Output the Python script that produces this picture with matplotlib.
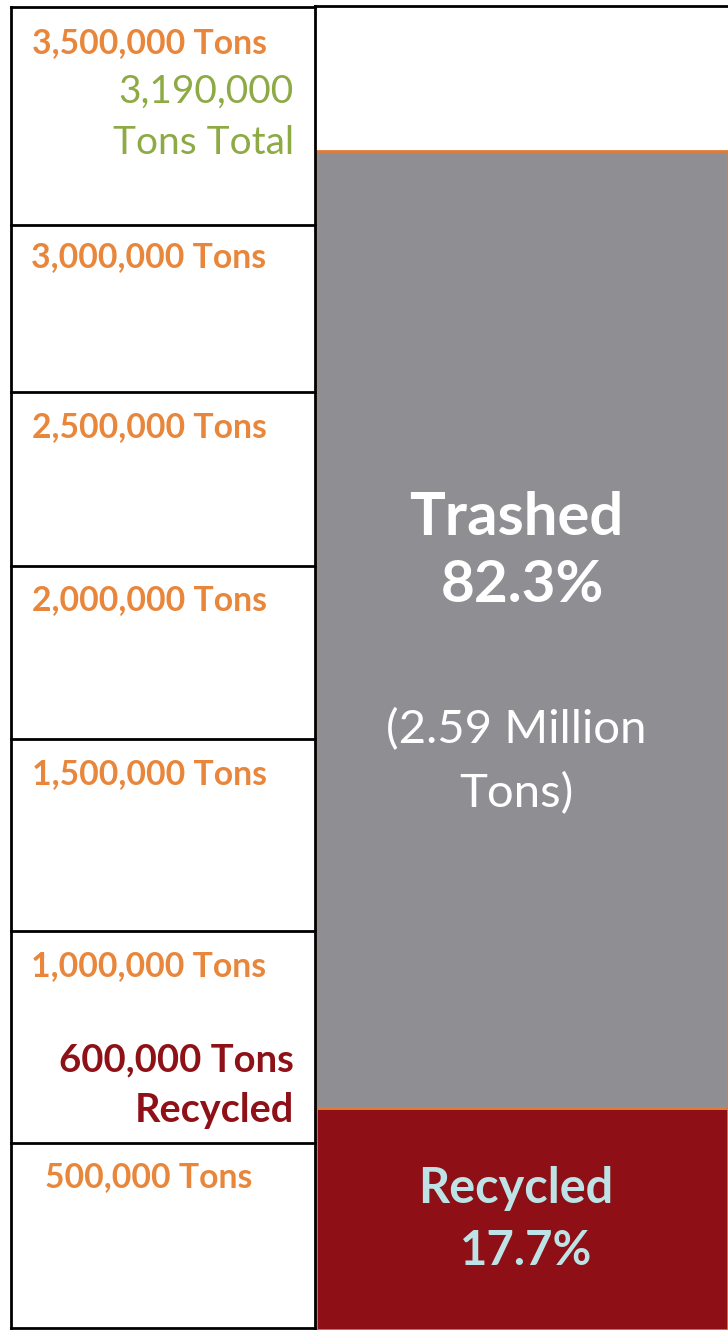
import matplotlib
matplotlib.use("Agg")
import matplotlib.pyplot as plt

# ---------------- data ----------------
categories = ["Recycled", "Trashed"]
tons = [600000, 2590000]
percent_labels = ["17.7%", "82.3%"]
total_tons = 3190000
scale_labels = ["3,500,000 Tons", "3,000,000 Tons", "2,500,000 Tons", "2,000,000 Tons",
                "1,500,000 Tons", "1,000,000 Tons", "500,000 Tons"]
total_label = ["3,190,000", "Tons Total"]
recycled_label = ["600,000 Tons", "Recycled"]
trashed_note = ["(2.59 Million", "Tons)"]

# ---------------- style ----------------
W, H, DPI = 728, 1330, 100
FONT = "Lato"
ORANGE = "#E8873C"
EDGE_ORANGE = "#E07B35"
GREEN = "#8DAA45"
DARKRED = "#8E1118"
BAR_RED = "#8E0F15"
GRAY = "#8F8E93"
LIGHTBLUE = "#BDE3E6"

fig = plt.figure(figsize=(W / DPI, H / DPI), dpi=DPI)
fig.patch.set_facecolor("white")

# bar axes (data units)
bar_top_px = 151
ax = fig.add_axes([316 / W, 0, (W - 316) / W, (H - bar_top_px) / H])
ax.set_xlim(-0.5, 0.5)
ax.set_ylim(0, total_tons)
ax.axis("off")
bottom = 0
colors = [BAR_RED, GRAY]
for cat, val, col in zip(categories, tons, colors):
    bars = ax.bar(0, val, bottom=bottom, width=1.0, color=col,
                  edgecolor=EDGE_ORANGE, linewidth=2.0, align="center")
    for b in bars:
        b.set_clip_on(False)
    bottom += val

# overlay axes in pixel coordinates for frame lines and text
ov = fig.add_axes([0, 0, 1, 1], facecolor="none")
ov.set_xlim(0, W)
ov.set_ylim(H, 0)
ov.axis("off")

lw = 2.0
row_lines = [7, 225, 392, 566, 739, 931, 1143, 1328]
for y in row_lines:
    ov.plot([11, 315], [y, y], color="black", lw=lw, solid_capstyle="projecting")
ov.plot([11, 11], [7, 1328], color="black", lw=lw, solid_capstyle="projecting")
ov.plot([315, 315], [6, 1328], color="black", lw=lw, solid_capstyle="projecting")
ov.plot([315, W], [6, 6], color="black", lw=lw)

# scale labels
label_base = [53, 267, 437, 610, 784, 976, 1187]
for txt, yb in zip(scale_labels, label_base):
    ov.text(149, yb, txt, color=ORANGE, fontsize=24.3, family=FONT,
            weight="bold", ha="center", va="baseline")

# total label
ov.text(294, 103, total_label[0], color=GREEN, fontsize=28, family=FONT,
        ha="right", va="baseline")
ov.text(294, 154, total_label[1], color=GREEN, fontsize=28, family=FONT,
        ha="right", va="baseline")

# recycled label
ov.text(294, 1071, recycled_label[0], color=DARKRED, fontsize=27.5, family=FONT,
        weight="bold", ha="right", va="baseline")
ov.text(294, 1122, recycled_label[1], color=DARKRED, fontsize=28.5, family=FONT,
        weight="bold", ha="right", va="baseline")

# bar texts
cx = 516
ov.text(cx, 535, categories[1], color="white", fontsize=43, family=FONT,
        weight="bold", ha="center", va="baseline")
ov.text(cx + 6, 602, percent_labels[1], color="white", fontsize=42, family=FONT,
        weight="bold", ha="center", va="baseline")
ov.text(cx, 743, trashed_note[0], color="white", fontsize=34, family=FONT,
        ha="center", va="baseline")
ov.text(cx, 807, trashed_note[1], color="white", fontsize=34, family=FONT,
        ha="center", va="baseline")
ov.text(cx, 1203, categories[0], color=LIGHTBLUE, fontsize=35, family=FONT,
        weight="bold", ha="center", va="baseline")
ov.text(cx + 10, 1265, percent_labels[0], color=LIGHTBLUE, fontsize=34, family=FONT,
        weight="bold", ha="center", va="baseline")

fig.savefig("out.png", dpi=DPI)
